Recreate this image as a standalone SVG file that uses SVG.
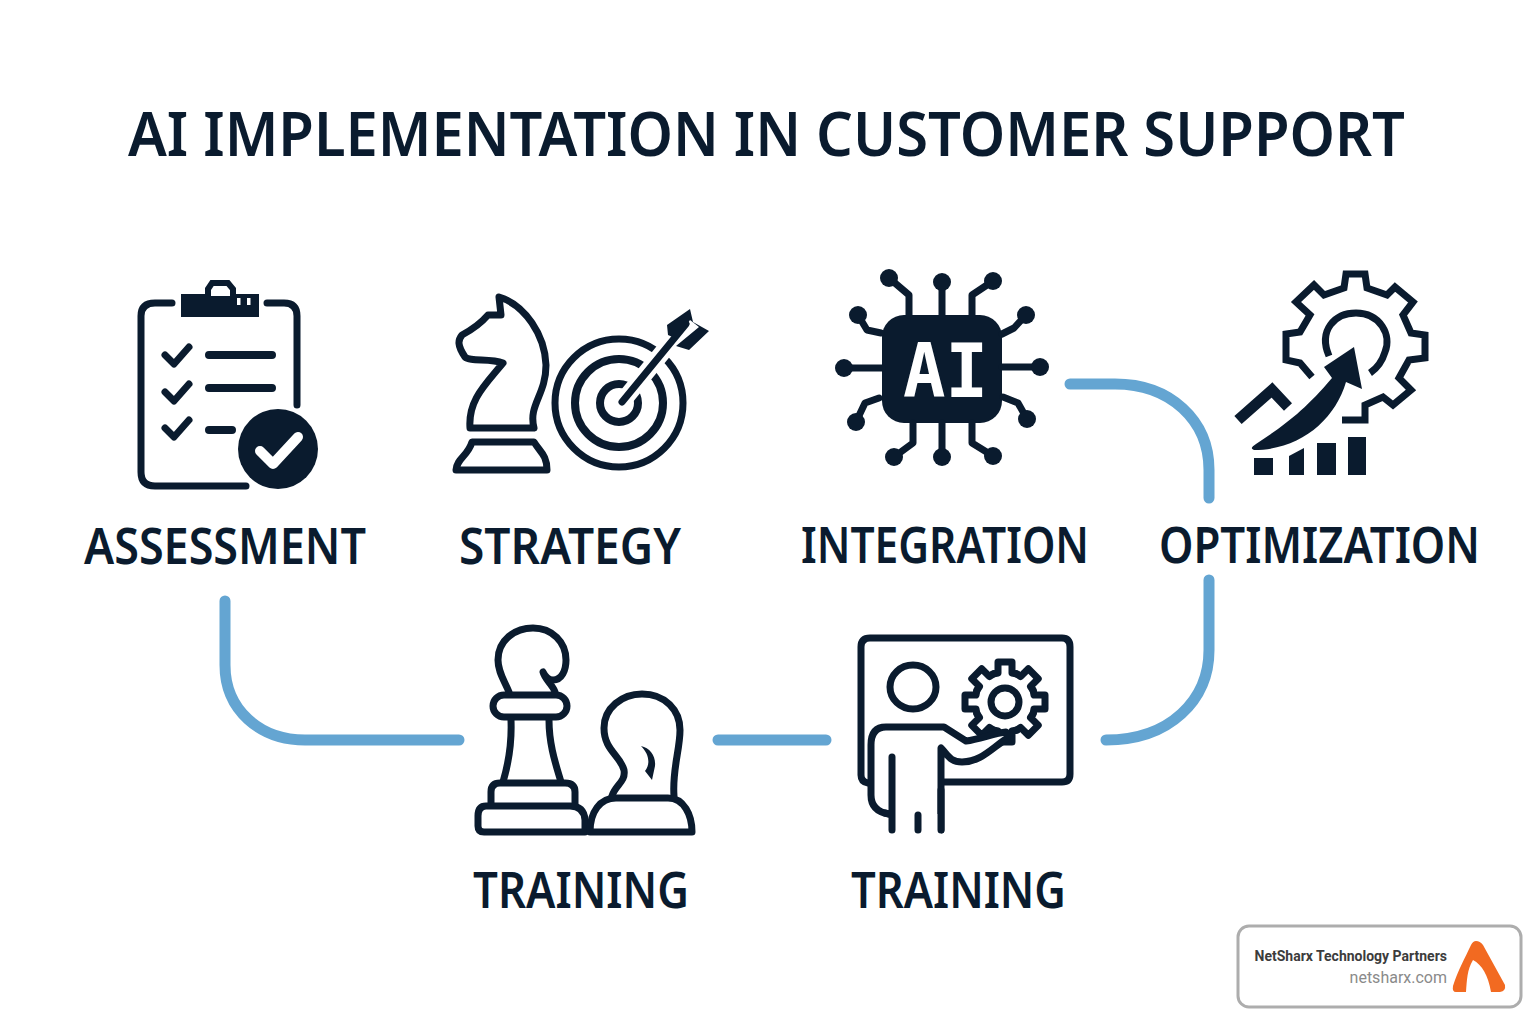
<svg xmlns="http://www.w3.org/2000/svg" xmlns:xlink="http://www.w3.org/1999/xlink" width="1536" height="1024" viewBox="0 0 1536 1024">
<style>
.ink{fill:none;stroke:#0a1b2e;stroke-width:7;stroke-linecap:round;stroke-linejoin:round}
.solid{fill:#0a1b2e;stroke:none}
.conn{fill:none;stroke:#64a5d2;stroke-width:11;stroke-linecap:round}
.lbl{font-family:"Noto Sans","Open Sans",sans-serif;font-weight:600;fill:#0a1b2e;font-size:50px}
.title{font-family:"Noto Sans","Open Sans",sans-serif;font-weight:600;fill:#0a1b2e;font-size:62px}
</style>
<defs>
<path id="tooth" d="M-12 -28L-7 -29L-7 -40L7 -40L7 -29L12 -28" class="ink" stroke-width="6"/>
</defs>
<rect width="1536" height="1024" fill="#fff"/>
<text id="title" class="title" x="128" y="156" textLength="1277" lengthAdjust="spacingAndGlyphs">AI IMPLEMENTATION IN CUSTOMER SUPPORT</text>
<g id="connectors">
<path class="conn" d="M225 601L225 665C225 710 260 740 305 740L459 740"/>
<path class="conn" d="M718 740L826 740"/>
<path class="conn" d="M1106 740C1170 740 1209 700 1209 650L1209 580"/>
<path class="conn" d="M1070 384L1115 384C1170 384 1209 420 1209 470L1209 498"/>
</g>
<g id="assessment">
<path class="ink" d="M172 303L155 303Q141 303 141 316L141 472Q141 486 155 486L246 486"/>
<path class="ink" d="M267 303L284 303Q297 303 297 316L297 405"/>
<rect class="solid" x="181" y="294" width="78" height="23"/>
<path d="M208 296L208 289L212 283L228 283L233 289L233 296" fill="#fff" stroke="#0a1b2e" stroke-width="6"/>
<rect x="237" y="298" width="3.500" height="7" fill="#fff"/><rect x="247" y="298" width="3.500" height="7" fill="#fff"/>
<path class="ink" d="M165 355L174 364L189 347M165 392L174 401L189 384M165 428L174 437L189 420"/>
<path class="ink" stroke-width="8" style="stroke-width:8" d="M209 355L272 355M209 388L272 388M209 430L232 430"/>
<circle cx="278" cy="449" r="40" class="solid"/>
<path d="M260 451L273 464L298 437" fill="none" stroke="#fff" stroke-width="10" stroke-linecap="round" stroke-linejoin="round"/>
<text class="lbl" x="84" y="564" textLength="282" lengthAdjust="spacingAndGlyphs">ASSESSMENT</text>
</g>
<g id="strategy">
<path class="ink" d="M499 297C525 305 545 335 546 365C546 395 528 405 534 428L470 428C468 400 485 385 503 363C490 358 470 362 465 357C457 345 458 340 462 335C475 328 482 322 488 315L501 315Z"/>
<path class="ink" d="M472 442L534 442C540 452 547 455 547 470L456 470C457 458 468 456 472 442Z"/>
<circle class="ink" cx="619" cy="403" r="64"/>
<circle class="ink" cx="619" cy="403" r="44" style="stroke-width:8"/>
<circle class="ink" cx="619" cy="403" r="19" style="stroke-width:8"/>
<path d="M622 402L684 326" stroke="#fff" stroke-width="17" fill="none"/>
<path d="M622 402L686 324" stroke="#0a1b2e" stroke-width="7" stroke-linecap="round" fill="none"/>
<path class="solid" d="M668 335L667 325L690 309L693 322L709 331L689 350L676 346L699 327L690 320L677 339Z"/>
<text class="lbl" x="459" y="564" textLength="222" lengthAdjust="spacingAndGlyphs">STRATEGY</text>
</g>
<g id="integration">
<rect class="solid" x="882" y="315" width="120" height="108" rx="22"/>
<text x="903" y="397" font-family="'DejaVu Sans Mono',monospace" font-weight="700" font-size="74" fill="#fff" textLength="85" lengthAdjust="spacingAndGlyphs">AI</text>
<path class="ink" d="M942 315L942 282M909 315L909 295L889 278M972 315L972 295L993 281M1002 334L1014 328L1026 315M881 333L867 330L858 315M882 368L844 368M1002 367L1040 367M879 398L865 403L856 422M1003 397L1018 403L1027 419M913 423L913 443L894 457M942 423L942 457M972 423L972 443L993 456"/>
<g class="solid"><circle cx="942" cy="282" r="9"/><circle cx="889" cy="278" r="9"/><circle cx="993" cy="281" r="9"/><circle cx="1026" cy="315" r="9"/><circle cx="858" cy="315" r="9"/><circle cx="844" cy="368" r="9"/><circle cx="1040" cy="367" r="9"/><circle cx="856" cy="422" r="9"/><circle cx="1027" cy="419" r="9"/><circle cx="894" cy="457" r="9"/><circle cx="942" cy="457" r="9"/><circle cx="993" cy="456" r="9"/></g>
<text class="lbl" x="801" y="563" textLength="288" lengthAdjust="spacingAndGlyphs">INTEGRATION</text>
</g>
<g id="optimization">
<path class="ink" style="stroke-linecap:butt;stroke-linejoin:miter" d="M1312 377L1300 363L1286 360L1286 334L1300 332L1310 315L1296 302L1314 285L1324 295L1344 288L1346 274L1365 274L1367 288L1387 295L1395 287L1413 302L1403 315L1411 333L1425 335L1425 358L1409 360L1399 378L1411 390L1393 405L1383 397L1365 405L1365 420L1342 420"/>
<path class="ink" style="stroke-linecap:butt" d="M1329 356C1318 330 1335 313 1356 313C1380 313 1392 335 1385 352C1382 362 1376 369 1370 373"/>
<path class="solid" d="M1354 347L1362 389L1346 382C1335 420 1300 450 1254 450C1250 448 1252 447 1256 444C1285 425 1305 410 1332 378L1324 367Z"/>
<path d="M1238 420L1272 390L1288 407" fill="none" stroke="#0a1b2e" stroke-width="11"/>
<g class="solid"><rect x="1254" y="458" width="19" height="17"/><path d="M1289 456L1304 448L1304 475L1289 475Z"/><rect x="1317" y="443" width="19" height="32"/><rect x="1348" y="437" width="18" height="38"/></g>
<text class="lbl" x="1159" y="563" textLength="321" lengthAdjust="spacingAndGlyphs">OPTIMIZATION</text>
</g>
<g id="training-1">
<path class="ink" d="M509 692C504 680 498 672 498 660C498 640 515 628 533 628C552 628 566 642 566 660C566 670 562 680 553 680C548 680 545 676 543 672C545 680 553 685 555 692"/>
<rect class="ink" x="493" y="695" width="74" height="22" rx="11"/>
<path class="ink" d="M511 720C512 745 508 765 503 782M549 720C549 745 556 765 561 782"/>
<path class="ink" d="M491 805L491 792Q491 783 500 783L565 783Q575 783 575 792L575 805"/>
<path class="ink" d="M486 806L570 806Q584 806 585 820L585 832L484 832Q478 832 478 826L478 816Q478 806 486 806Z"/>
<path class="ink" d="M612 796C615 785 626 782 624 770C620 755 604 750 604 728C604 708 622 694 642 694C665 694 680 710 680 730C680 750 672 770 674 796"/>
<path class="ink" d="M590 832C590 812 600 798 616 798L668 798C684 798 692 815 692 832Z"/>
<path class="solid" d="M641 746C650 748 656 756 655 766L652 780L645 771C650 765 650 755 641 746Z"/>
<text class="lbl" x="473" y="908" textLength="216" lengthAdjust="spacingAndGlyphs">TRAINING</text>
</g>
<g id="training-2">
<path class="ink" d="M868 783Q861 782 861 775L861 647Q861 638 870 638L1062 638Q1070 638 1070 647L1070 774Q1070 782 1062 782L944 782"/>
<g transform="translate(1005 702)"><use href="#tooth"/><use href="#tooth" transform="rotate(45)"/><use href="#tooth" transform="rotate(90)"/><use href="#tooth" transform="rotate(135)"/><use href="#tooth" transform="rotate(180)"/><use href="#tooth" transform="rotate(225)"/><use href="#tooth" transform="rotate(270)"/><use href="#tooth" transform="rotate(315)"/><circle class="ink" r="14"/></g>
<ellipse class="ink" cx="913" cy="687" rx="23" ry="22"/>
<path d="M889 814C876 812 871 805 871 795L871 745C871 733 876 727 886 727L944 727L966 741C980 739 995 733 1006 732C1008 735 1008 737 1006 739C990 750 980 762 962 762C950 762 948 755 941 748L941 830" fill="#fff" stroke="#0a1b2e" stroke-width="7" stroke-linecap="round" stroke-linejoin="round"/>
<path d="M889 814L889 840L941 840L941 814Z" fill="#fff" stroke="none"/>
<path class="ink" d="M892 757L892 830M918 815L918 830M941 790L941 830M889 814L885 813"/>
<text class="lbl" x="851" y="908" textLength="215" lengthAdjust="spacingAndGlyphs">TRAINING</text>
</g>
<g id="badge">
<rect x="1238" y="926" width="283" height="81" rx="11" fill="#fff" stroke="#adadad" stroke-width="3"/>
<text x="1447" y="961" text-anchor="end" font-family="Roboto,sans-serif" font-weight="700" font-size="14" fill="#3c3c3c">NetSharx Technology Partners</text>
<text x="1447" y="983" text-anchor="end" font-family="Roboto,sans-serif" font-size="16" fill="#8a8a8a">netsharx.com</text>
<path d="M1476 941Q1480 941 1483 945L1505 985Q1506 991 1500 992L1491 992C1488 975 1482 965 1473 960C1467 970 1467 980 1466 992L1456 992Q1452 992 1453 986C1458 970 1465 958 1471 945Q1473 941 1476 941Z" fill="#f26a21"/>
</g>
</svg>
